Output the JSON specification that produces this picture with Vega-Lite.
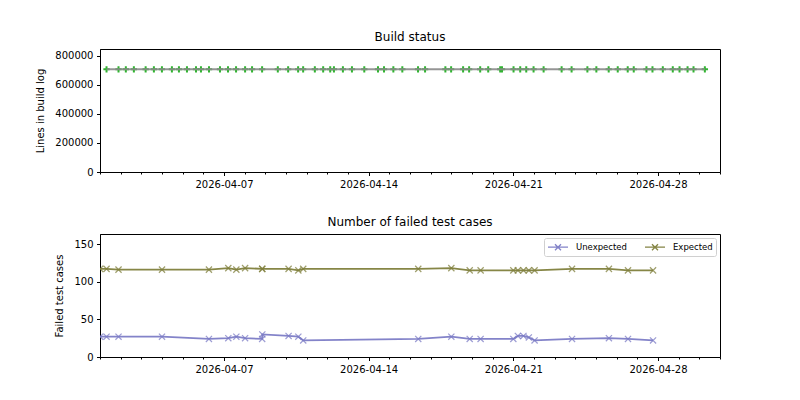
{
  "$schema": "https://vega.github.io/schema/vega-lite/v6.json",
  "padding": {"left": 35, "top": 30, "right": 80, "bottom": 10},
  "background": "white",
  "bounds": "flush",
  "spacing": 62,
  "resolve": {"legend": {"color": "independent"}, "scale": {"color": "independent"}},
  "config": {
    "font": "DejaVu Sans",
    "view": {"stroke": "black", "strokeWidth": 1},
    "axis": {
      "domainColor": "black", "tickColor": "black", "labelColor": "black", "titleColor": "black",
      "labelFontSize": 10, "titleFontSize": 10, "titleFontWeight": "normal",
      "tickSize": 3.5, "labelPadding": 3.5, "grid": false, "labelFont": "DejaVu Sans", "titleFont": "DejaVu Sans"
    },
    "title": {"fontSize": 12, "fontWeight": "normal", "font": "DejaVu Sans", "offset": 5, "color": "black"}
  },
  "datasets": {
    "build": [
      {"date": "2026-04-01T07:35", "lines": 706000},
      {"date": "2026-04-01T21:30", "lines": 706000},
      {"date": "2026-04-02T06:00", "lines": 706000},
      {"date": "2026-04-02T15:20", "lines": 706000},
      {"date": "2026-04-03T05:00", "lines": 706000},
      {"date": "2026-04-03T14:35", "lines": 706000},
      {"date": "2026-04-03T23:55", "lines": 706000},
      {"date": "2026-04-04T11:30", "lines": 706000},
      {"date": "2026-04-04T19:40", "lines": 706000},
      {"date": "2026-04-05T05:00", "lines": 706000},
      {"date": "2026-04-05T15:30", "lines": 706000},
      {"date": "2026-04-05T21:15", "lines": 706000},
      {"date": "2026-04-06T06:35", "lines": 706000},
      {"date": "2026-04-06T19:20", "lines": 706000},
      {"date": "2026-04-07T04:40", "lines": 706000},
      {"date": "2026-04-07T14:00", "lines": 706000},
      {"date": "2026-04-08T00:30", "lines": 706000},
      {"date": "2026-04-08T08:35", "lines": 706000},
      {"date": "2026-04-08T20:15", "lines": 706000},
      {"date": "2026-04-09T14:30", "lines": 706000},
      {"date": "2026-04-10T02:30", "lines": 706000},
      {"date": "2026-04-10T14:05", "lines": 706000},
      {"date": "2026-04-10T19:55", "lines": 706000},
      {"date": "2026-04-11T09:30", "lines": 706000},
      {"date": "2026-04-11T19:10", "lines": 706000},
      {"date": "2026-04-12T03:20", "lines": 706000},
      {"date": "2026-04-12T07:40", "lines": 706000},
      {"date": "2026-04-12T18:05", "lines": 706000},
      {"date": "2026-04-13T04:35", "lines": 706000},
      {"date": "2026-04-13T18:55", "lines": 706000},
      {"date": "2026-04-14T10:50", "lines": 706000},
      {"date": "2026-04-14T17:50", "lines": 706000},
      {"date": "2026-04-15T04:40", "lines": 706000},
      {"date": "2026-04-15T15:05", "lines": 706000},
      {"date": "2026-04-16T09:20", "lines": 706000},
      {"date": "2026-04-16T17:30", "lines": 706000},
      {"date": "2026-04-17T17:05", "lines": 706000},
      {"date": "2026-04-17T23:45", "lines": 706000},
      {"date": "2026-04-18T13:40", "lines": 706000},
      {"date": "2026-04-18T20:40", "lines": 706000},
      {"date": "2026-04-19T09:30", "lines": 706000},
      {"date": "2026-04-19T18:50", "lines": 706000},
      {"date": "2026-04-20T08:45", "lines": 706000},
      {"date": "2026-04-20T10:50", "lines": 706000},
      {"date": "2026-04-21T00:15", "lines": 706000},
      {"date": "2026-04-21T08:00", "lines": 706000},
      {"date": "2026-04-21T15:00", "lines": 706000},
      {"date": "2026-04-21T23:30", "lines": 706000},
      {"date": "2026-04-22T11:10", "lines": 706000},
      {"date": "2026-04-23T08:05", "lines": 706000},
      {"date": "2026-04-23T19:40", "lines": 706000},
      {"date": "2026-04-24T14:00", "lines": 706000},
      {"date": "2026-04-25T00:25", "lines": 706000},
      {"date": "2026-04-25T14:45", "lines": 706000},
      {"date": "2026-04-26T01:15", "lines": 706000},
      {"date": "2026-04-26T12:50", "lines": 706000},
      {"date": "2026-04-26T19:50", "lines": 706000},
      {"date": "2026-04-27T10:35", "lines": 706000},
      {"date": "2026-04-27T17:35", "lines": 706000},
      {"date": "2026-04-28T05:35", "lines": 706000},
      {"date": "2026-04-28T17:10", "lines": 706000},
      {"date": "2026-04-29T01:00", "lines": 706000},
      {"date": "2026-04-29T10:20", "lines": 706000},
      {"date": "2026-04-29T17:15", "lines": 706000},
      {"date": "2026-04-30T06:25", "lines": 706000}
    ],
    "tests": [
      {"date": "2026-04-01T00:10", "series": "Unexpected", "count": 27},
      {"date": "2026-04-01T07:35", "series": "Unexpected", "count": 27},
      {"date": "2026-04-01T21:30", "series": "Unexpected", "count": 27},
      {"date": "2026-04-04T00:00", "series": "Unexpected", "count": 27},
      {"date": "2026-04-06T06:30", "series": "Unexpected", "count": 24},
      {"date": "2026-04-07T05:00", "series": "Unexpected", "count": 25},
      {"date": "2026-04-07T14:20", "series": "Unexpected", "count": 27},
      {"date": "2026-04-08T00:30", "series": "Unexpected", "count": 25},
      {"date": "2026-04-08T20:20", "series": "Unexpected", "count": 24},
      {"date": "2026-04-08T20:30", "series": "Unexpected", "count": 30},
      {"date": "2026-04-10T03:00", "series": "Unexpected", "count": 28},
      {"date": "2026-04-10T14:20", "series": "Unexpected", "count": 27},
      {"date": "2026-04-10T20:00", "series": "Unexpected", "count": 22},
      {"date": "2026-04-16T09:35", "series": "Unexpected", "count": 24},
      {"date": "2026-04-18T00:00", "series": "Unexpected", "count": 27},
      {"date": "2026-04-18T21:20", "series": "Unexpected", "count": 24},
      {"date": "2026-04-19T10:00", "series": "Unexpected", "count": 24},
      {"date": "2026-04-21T00:00", "series": "Unexpected", "count": 24},
      {"date": "2026-04-21T05:15", "series": "Unexpected", "count": 28},
      {"date": "2026-04-21T11:45", "series": "Unexpected", "count": 28},
      {"date": "2026-04-21T18:00", "series": "Unexpected", "count": 26},
      {"date": "2026-04-22T00:40", "series": "Unexpected", "count": 22},
      {"date": "2026-04-23T20:10", "series": "Unexpected", "count": 24},
      {"date": "2026-04-25T15:00", "series": "Unexpected", "count": 25},
      {"date": "2026-04-26T13:10", "series": "Unexpected", "count": 24},
      {"date": "2026-04-27T18:15", "series": "Unexpected", "count": 22},
      {"date": "2026-04-01T00:10", "series": "Expected", "count": 117},
      {"date": "2026-04-01T07:35", "series": "Expected", "count": 117},
      {"date": "2026-04-01T21:30", "series": "Expected", "count": 116},
      {"date": "2026-04-04T00:00", "series": "Expected", "count": 116},
      {"date": "2026-04-06T06:30", "series": "Expected", "count": 116},
      {"date": "2026-04-07T05:00", "series": "Expected", "count": 118},
      {"date": "2026-04-07T14:20", "series": "Expected", "count": 116},
      {"date": "2026-04-08T00:30", "series": "Expected", "count": 118},
      {"date": "2026-04-08T20:20", "series": "Expected", "count": 117},
      {"date": "2026-04-08T20:30", "series": "Expected", "count": 117},
      {"date": "2026-04-10T03:00", "series": "Expected", "count": 117},
      {"date": "2026-04-10T14:20", "series": "Expected", "count": 115},
      {"date": "2026-04-10T20:00", "series": "Expected", "count": 117},
      {"date": "2026-04-16T09:35", "series": "Expected", "count": 117},
      {"date": "2026-04-18T00:00", "series": "Expected", "count": 118},
      {"date": "2026-04-18T21:20", "series": "Expected", "count": 115},
      {"date": "2026-04-19T10:00", "series": "Expected", "count": 115},
      {"date": "2026-04-21T00:00", "series": "Expected", "count": 115},
      {"date": "2026-04-21T05:15", "series": "Expected", "count": 115},
      {"date": "2026-04-21T11:45", "series": "Expected", "count": 115},
      {"date": "2026-04-21T18:00", "series": "Expected", "count": 115},
      {"date": "2026-04-22T00:40", "series": "Expected", "count": 115},
      {"date": "2026-04-23T20:10", "series": "Expected", "count": 117},
      {"date": "2026-04-25T15:00", "series": "Expected", "count": 117},
      {"date": "2026-04-26T13:10", "series": "Expected", "count": 115},
      {"date": "2026-04-27T18:15", "series": "Expected", "count": 115}
    ]
  },
  "vconcat": [
    {
      "title": "Build status",
      "width": 620,
      "height": 123,
      "data": {"name": "build"},
      "encoding": {
        "x": {
          "field": "date", "type": "temporal",
          "scale": {"domain": [{"year": 2026, "month": 4, "date": 1}, {"year": 2026, "month": 5, "date": 1}]},
          "axis": {
            "title": null,
            "tickCount": {"interval": "day", "step": 1},
            "labelOverlap": false,
            "labelExpr": "date(datum.value) % 7 == 0 ? timeFormat(datum.value, '%Y-%m-%d') : ''",
            "tickSize": {"condition": {"test": "date(datum.value) % 7 == 0", "value": 3.5}, "value": 2}
          }
        },
        "y": {
          "field": "lines", "type": "quantitative",
          "scale": {"domain": [0, 846000], "nice": false},
          "axis": {"title": "Lines in build log", "values": [0, 200000, 400000, 600000, 800000], "format": "d", "titlePadding": 9}
        }
      },
      "layer": [
        {
          "mark": {"type": "point", "shape": "M0,-1V1M-1,0H1", "filled": false, "stroke": "#30b430", "strokeWidth": 2, "size": 40, "opacity": 1, "clip": true}
        },
        {
          "mark": {"type": "line", "color": "#8a8a8a", "strokeWidth": 2, "opacity": 0.9, "clip": true}
        }
      ]
    },
    {
      "title": "Number of failed test cases",
      "width": 620,
      "height": 123,
      "data": {"name": "tests"},
      "encoding": {
        "x": {
          "field": "date", "type": "temporal",
          "scale": {"domain": [{"year": 2026, "month": 4, "date": 1}, {"year": 2026, "month": 5, "date": 1}]},
          "axis": {
            "title": null,
            "tickCount": {"interval": "day", "step": 1},
            "labelOverlap": false,
            "labelExpr": "date(datum.value) % 7 == 0 ? timeFormat(datum.value, '%Y-%m-%d') : ''",
            "tickSize": {"condition": {"test": "date(datum.value) % 7 == 0", "value": 3.5}, "value": 2}
          }
        },
        "y": {
          "field": "count", "type": "quantitative",
          "scale": {"domain": [0, 163.3], "nice": false},
          "axis": {"title": "Failed test cases", "values": [0, 50, 100, 150], "titlePadding": 9}
        },
        "color": {
          "field": "series", "type": "nominal",
          "scale": {"domain": ["Unexpected", "Expected"], "range": ["#7c7cc6", "#7f7f3c"]},
          "legend": {
            "title": null, "orient": "top-right", "direction": "horizontal", "offset": 4,
            "labelFontSize": 8.5, "labelFont": "DejaVu Sans", "labelColor": "black",
            "symbolType": "M-2,0H2M-0.6,-0.6L0.6,0.6M-0.6,0.6L0.6,-0.6",
            "symbolSize": 100, "symbolStrokeWidth": 1.3, "symbolFillColor": "transparent",
            "symbolOffset": 5, "labelOffset": 12,
            "fillColor": "white", "strokeColor": "#d0d0d0", "cornerRadius": 2, "padding": 3,
            "columnPadding": 15
          }
        }
      },
      "layer": [
        {
          "mark": {"type": "line", "strokeWidth": 1.8, "opacity": 0.95, "clip": true}
        },
        {
          "mark": {"type": "point", "shape": "M-1,-1L1,1M-1,1L1,-1", "filled": false, "strokeWidth": 1.2, "size": 38, "opacity": 0.75, "clip": true}
        }
      ]
    }
  ]
}
